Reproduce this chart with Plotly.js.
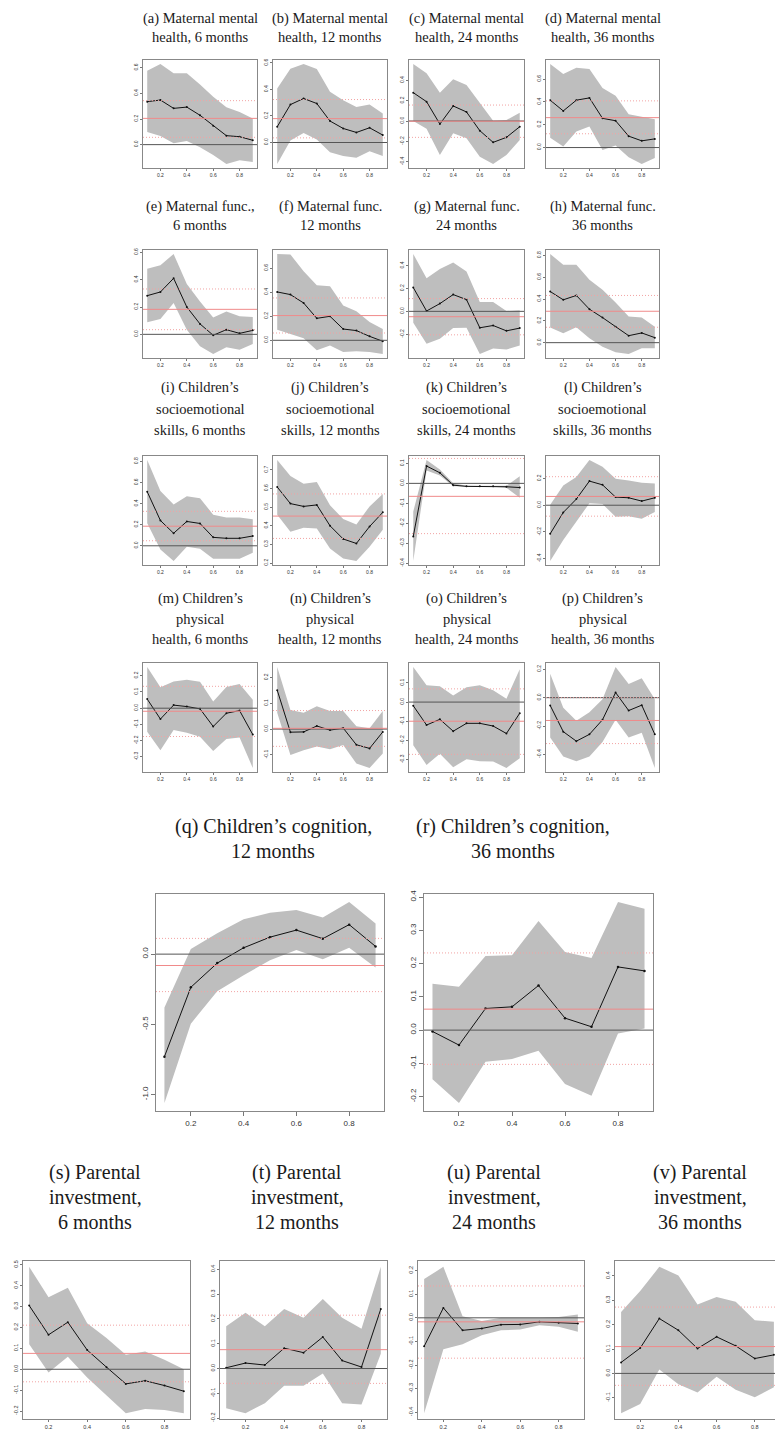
<!DOCTYPE html>
<html><head><meta charset="utf-8">
<script src="https://cdn.plot.ly/plotly-3.0.1.min.js"></script>
<style>html,body{margin:0;padding:0;background:#fff}#chart{width:775px;height:1432px}</style>
</head><body><div id="chart"></div>
<script>
const quantiles = [0.1,0.2,0.3,0.4,0.5,0.6,0.7,0.8,0.9];
const xTicks = [0.2,0.4,0.6,0.8];

// each panel: estimate, lower band, upper band, reference [mean, lower, upper]
const a_est=[0.335,0.348,0.283,0.293,0.229,0.148,0.070,0.062,0.034];
const a_lower=[0.099,0.068,0.010,0.029,-0.021,-0.081,-0.151,-0.122,-0.135];
const a_upper=[0.577,0.629,0.556,0.556,0.470,0.374,0.291,0.255,0.203];
const a_ref=[0.205,0.057,0.343];
const a_yticks=[0,0.2,0.4,0.6];

const b_est=[0.119,0.286,0.332,0.294,0.162,0.106,0.076,0.111,0.056];
const b_lower=[-0.162,0.015,0.071,0.023,-0.073,-0.101,-0.114,-0.066,-0.101];
const b_upper=[0.408,0.557,0.592,0.554,0.382,0.319,0.268,0.286,0.218];
const b_ref=[0.18,0.035,0.324];
const b_yticks=[0,0.2,0.4,0.6];

const c_est=[0.279,0.19,-0.03,0.148,0.089,-0.095,-0.21,-0.161,-0.056];
const c_lower=[0.0,-0.075,-0.334,-0.121,-0.17,-0.351,-0.423,-0.334,-0.187];
const c_upper=[0.561,0.469,0.279,0.41,0.354,0.174,0.003,0.01,0.082];
const c_ref=[-0.002,-0.161,0.157];
const c_yticks=[-0.4,-0.2,0,0.2,0.4];

const d_est=[0.415,0.321,0.415,0.435,0.256,0.235,0.1,0.059,0.076];
const d_lower=[0.085,0.009,0.141,0.185,-0.021,0.018,-0.085,-0.144,-0.091];
const d_upper=[0.732,0.644,0.7,0.688,0.521,0.453,0.291,0.268,0.247];
const d_ref=[0.262,0.121,0.409];
const d_yticks=[0,0.2,0.4,0.6];

const e_est=[0.283,0.31,0.41,0.2,0.076,-0.007,0.034,0.007,0.029];
const e_lower=[0.088,0.112,0.229,0.034,-0.088,-0.144,-0.095,-0.112,-0.071];
const e_upper=[0.48,0.505,0.588,0.368,0.241,0.124,0.168,0.132,0.127];
const e_ref=[0.183,0.034,0.332];
const e_yticks=[0,0.2,0.4,0.6];

const f_est=[0.403,0.381,0.311,0.183,0.2,0.094,0.081,0.033,-0.008];
const f_lower=[0.089,0.053,0.017,-0.083,-0.044,-0.097,-0.092,-0.097,-0.114];
const f_upper=[0.719,0.714,0.575,0.458,0.45,0.289,0.242,0.153,0.094];
const f_ref=[0.206,0.061,0.353];
const f_yticks=[0,0.2,0.4,0.6];

const g_est=[0.209,0.003,0.068,0.147,0.103,-0.144,-0.124,-0.171,-0.147];
const g_lower=[-0.1,-0.285,-0.241,-0.147,-0.144,-0.374,-0.326,-0.335,-0.3];
const g_upper=[0.503,0.291,0.371,0.429,0.35,0.082,0.082,0.003,0.009];
const g_ref=[-0.047,-0.206,0.112];
const g_yticks=[-0.2,0,0.2,0.4];

const h_est=[0.469,0.393,0.433,0.307,0.23,0.147,0.064,0.089,0.046];
const h_lower=[0.138,0.086,0.141,0.04,-0.037,-0.089,-0.104,-0.052,-0.052];
const h_upper=[0.813,0.715,0.715,0.577,0.485,0.368,0.239,0.23,0.147];
const h_ref=[0.288,0.141,0.433];
const h_yticks=[0,0.2,0.4,0.6,0.8];

const i_est=[0.513,0.24,0.119,0.231,0.212,0.08,0.071,0.071,0.093];
const i_lower=[0.215,-0.035,-0.144,-0.01,-0.029,-0.122,-0.122,-0.122,-0.067];
const i_upper=[0.814,0.519,0.391,0.471,0.452,0.295,0.269,0.269,0.253];
const i_ref=[0.186,0.048,0.327];
const i_yticks=[0,0.2,0.4,0.6,0.8];

const j_est=[0.608,0.519,0.504,0.512,0.4,0.329,0.305,0.396,0.472];
const j_lower=[0.459,0.368,0.39,0.385,0.278,0.224,0.211,0.287,0.378];
const j_upper=[0.753,0.667,0.626,0.635,0.51,0.436,0.407,0.504,0.571];
const j_ref=[0.452,0.332,0.571];
const j_yticks=[0.2,0.3,0.4,0.5,0.6,0.7];

const k_est=[-0.266,0.087,0.053,-0.009,-0.015,-0.015,-0.015,-0.017,-0.021];
const k_lower=[-0.389,0.065,0.039,-0.015,-0.017,-0.017,-0.017,-0.022,-0.072];
const k_upper=[-0.141,0.117,0.069,0.0,-0.012,-0.012,-0.012,-0.012,0.036];
const k_ref=[-0.065,-0.252,0.125];
const k_yticks=[-0.4,-0.3,-0.2,-0.1,0,0.1];

const l_est=[-0.214,-0.054,0.046,0.181,0.153,0.061,0.056,0.031,0.056];
const l_lower=[-0.418,-0.26,-0.125,0.015,0.01,-0.087,-0.082,-0.102,-0.051];
const l_upper=[0.003,0.148,0.212,0.339,0.288,0.199,0.186,0.168,0.163];
const l_ref=[0.066,-0.082,0.214];
const l_yticks=[-0.4,-0.2,0,0.2];

const m_est=[0.056,-0.067,0.019,0.01,-0.004,-0.113,-0.031,-0.015,-0.163];
const m_lower=[-0.146,-0.26,-0.135,-0.152,-0.177,-0.265,-0.19,-0.181,-0.369];
const m_upper=[0.254,0.129,0.165,0.175,0.163,0.042,0.131,0.15,0.052];
const m_ref=[-0.019,-0.175,0.135];
const m_yticks=[-0.3,-0.2,-0.1,0,0.1,0.2];

const n_est=[0.151,-0.012,-0.011,0.012,-0.004,0.004,-0.061,-0.075,-0.011];
const n_lower=[0.063,-0.101,-0.082,-0.068,-0.078,-0.062,-0.134,-0.151,-0.095];
const n_upper=[0.241,0.074,0.063,0.089,0.07,0.07,0.011,0.003,0.07];
const n_ref=[0.003,-0.067,0.072];
const n_yticks=[-0.1,0,0.1,0.2];

const o_est=[-0.019,-0.12,-0.09,-0.152,-0.111,-0.111,-0.125,-0.164,-0.058];
const o_lower=[-0.226,-0.328,-0.27,-0.34,-0.298,-0.309,-0.31,-0.344,-0.293];
const o_upper=[0.183,0.088,0.083,0.034,0.078,0.088,0.062,0.018,0.171];
const o_ref=[-0.1,-0.273,0.069];
const o_yticks=[-0.3,-0.2,-0.1,0,0.1];

const p_est=[-0.055,-0.24,-0.307,-0.259,-0.156,0.036,-0.091,-0.053,-0.259];
const p_lower=[-0.281,-0.415,-0.448,-0.415,-0.312,-0.156,-0.281,-0.247,-0.496];
const p_upper=[0.168,-0.072,-0.163,-0.103,-0.012,0.216,0.096,0.137,-0.012];
const p_ref=[-0.161,-0.324,0.0];
const p_yticks=[-0.4,-0.2,0,0.2];

const q_est=[-0.73,-0.236,-0.064,0.045,0.121,0.171,0.11,0.21,0.055];
const q_lower=[-1.06,-0.495,-0.264,-0.15,-0.043,0.029,-0.036,0.045,-0.095];
const q_upper=[-0.38,0.036,0.148,0.248,0.295,0.314,0.26,0.371,0.219];
const q_ref=[-0.081,-0.267,0.112];
const q_yticks=[-1,-0.5,0];

const r_est=[-0.004,-0.045,0.065,0.07,0.134,0.036,0.01,0.19,0.178];
const r_lower=[-0.148,-0.219,-0.095,-0.087,-0.062,-0.162,-0.197,-0.01,0.005];
const r_upper=[0.139,0.13,0.223,0.225,0.328,0.235,0.217,0.385,0.365];
const r_ref=[0.063,-0.103,0.232];
const r_yticks=[-0.2,-0.1,0,0.1,0.2,0.3,0.4];

const s_est=[0.305,0.165,0.225,0.092,0.01,-0.07,-0.055,-0.078,-0.105];
const s_lower=[0.12,-0.015,0.06,-0.04,-0.125,-0.21,-0.19,-0.195,-0.21];
const s_upper=[0.49,0.345,0.39,0.22,0.15,0.07,0.085,0.045,0.0];
const s_ref=[0.076,-0.06,0.211];
const s_yticks=[-0.2,-0.1,0,0.1,0.2,0.3,0.4,0.5];

const t_est=[0.003,0.022,0.014,0.082,0.064,0.127,0.032,0.006,0.24];
const t_lower=[-0.16,-0.18,-0.14,-0.07,-0.07,-0.02,-0.14,-0.145,0.06];
const t_upper=[0.17,0.225,0.17,0.24,0.205,0.28,0.205,0.16,0.41];
const t_ref=[0.076,-0.06,0.215];
const t_yticks=[-0.2,-0.1,0,0.1,0.2,0.3,0.4];

const u_est=[-0.121,0.042,-0.053,-0.045,-0.029,-0.028,-0.017,-0.021,-0.024];
const u_lower=[-0.404,-0.133,-0.112,-0.074,-0.053,-0.049,-0.032,-0.038,-0.059];
const u_upper=[0.164,0.216,0.007,-0.014,0.0,0.0,0.0,0.004,0.014];
const u_ref=[-0.017,-0.171,0.135];
const u_yticks=[-0.4,-0.3,-0.2,-0.1,0,0.1,0.2];

const v_est=[0.045,0.104,0.225,0.177,0.102,0.15,0.113,0.061,0.076];
const v_lower=[-0.163,-0.125,0.016,-0.044,-0.078,-0.014,-0.067,-0.098,-0.057];
const v_upper=[0.252,0.338,0.437,0.402,0.283,0.313,0.294,0.218,0.212];
const v_ref=[0.11,-0.049,0.272];
const v_yticks=[-0.1,0,0.1,0.2,0.3,0.4];

const titles = {
 a:["(a) Maternal mental","health, 6 months"],
 b:["(b) Maternal mental","health, 12 months"],
 c:["(c) Maternal mental","health, 24 months"],
 d:["(d) Maternal mental","health, 36 months"],
 e:["(e) Maternal func.,","6 months"],
 f:["(f) Maternal func.","12 months"],
 g:["(g) Maternal func.","24 months"],
 h:["(h) Maternal func.","36 months"],
 i:["(i) Children\u2019s","socioemotional","skills, 6 months"],
 j:["(j) Children\u2019s","socioemotional","skills, 12 months"],
 k:["(k) Children\u2019s","socioemotional","skills, 24 months"],
 l:["(l) Children\u2019s","socioemotional","skills, 36 months"],
 m:["(m) Children\u2019s","physical","health, 6 months"],
 n:["(n) Children\u2019s","physical","health, 12 months"],
 o:["(o) Children\u2019s","physical","health, 24 months"],
 p:["(p) Children\u2019s","physical","health, 36 months"],
 q:["(q) Children\u2019s cognition,","12 months"],
 r:["(r) Children\u2019s cognition,","36 months"],
 s:["(s) Parental","investment,","6 months"],
 t:["(t) Parental","investment,","12 months"],
 u:["(u) Parental","investment,","24 months"],
 v:["(v) Parental","investment,","36 months"]
};

const DATA = {
 a:[a_est,a_lower,a_upper,a_ref,a_yticks], b:[b_est,b_lower,b_upper,b_ref,b_yticks],
 c:[c_est,c_lower,c_upper,c_ref,c_yticks], d:[d_est,d_lower,d_upper,d_ref,d_yticks],
 e:[e_est,e_lower,e_upper,e_ref,e_yticks], f:[f_est,f_lower,f_upper,f_ref,f_yticks],
 g:[g_est,g_lower,g_upper,g_ref,g_yticks], h:[h_est,h_lower,h_upper,h_ref,h_yticks],
 i:[i_est,i_lower,i_upper,i_ref,i_yticks], j:[j_est,j_lower,j_upper,j_ref,j_yticks],
 k:[k_est,k_lower,k_upper,k_ref,k_yticks], l:[l_est,l_lower,l_upper,l_ref,l_yticks],
 m:[m_est,m_lower,m_upper,m_ref,m_yticks], n:[n_est,n_lower,n_upper,n_ref,n_yticks],
 o:[o_est,o_lower,o_upper,o_ref,o_yticks], p:[p_est,p_lower,p_upper,p_ref,p_yticks],
 q:[q_est,q_lower,q_upper,q_ref,q_yticks], r:[r_est,r_lower,r_upper,r_ref,r_yticks],
 s:[s_est,s_lower,s_upper,s_ref,s_yticks], t:[t_est,t_lower,t_upper,t_ref,t_yticks],
 u:[u_est,u_lower,u_upper,u_ref,u_yticks], v:[v_est,v_lower,v_upper,v_ref,v_yticks]
};

// layout geometry (pixels): [left, top, right, bottom]
const W=775, H=1432;
const rowsSmall = [
 {keys:['a','b','c','d'], top:60, bottom:168, tY:[18,37]},
 {keys:['e','f','g','h'], top:250, bottom:358, tY:[207,225]},
 {keys:['i','j','k','l'], top:456, bottom:565, tY:[388,409,430]},
 {keys:['m','n','o','p'], top:663, bottom:772, tY:[599,619,639]}
];
const colsSmall = [[143,257],[273,387],[409,524],[546,659]];
const geo = {};
rowsSmall.forEach(r=>r.keys.forEach((k,ci)=>{
  geo[k]={box:[colsSmall[ci][0],r.top,colsSmall[ci][1],r.bottom],tY:r.tY,tx:(colsSmall[ci][0]+colsSmall[ci][1])/2,tf:14.5,kf:5,big:false};
}));
geo.q={box:[156,894,384,1111],tY:[826,851],tx:273,tf:20,kf:8,big:true};
geo.r={box:[424,894,653,1111],tY:[826,851],tx:513,tf:20,kf:8,big:true};
const bot=[[23,190],[220,387],[418,584],[615,780]];
['s','t','u','v'].forEach((k,ci)=>{
  geo[k]={box:[bot[ci][0],1261,bot[ci][1],1419],tY:[1172,1197,1222],tx:[95,297,494,700][ci],tf:20,kf:5.5,big:false};
});

const traces=[], shapes=[], annotations=[];
const layout={width:W,height:H,margin:{l:0,r:0,t:0,b:0},paper_bgcolor:'#fff',plot_bgcolor:'#fff',showlegend:false,shapes,annotations};
const fmt=v=>v.toFixed(1);
const keys=Object.keys(DATA);
keys.forEach((k,idx)=>{
  const [est,lo,hi,ref,yt]=DATA[k];
  const g=geo[k];
  const n=idx+1, xa='x'+(n===1?'':n), ya='y'+(n===1?'':n);
  const xaName='xaxis'+(n===1?'':n), yaName='yaxis'+(n===1?'':n);
  const all=lo.concat(hi).concat(est);
  let mn=Math.min(...all), mx=Math.max(...all);
  const pad=(mx-mn)*0.04;
  let x0=g.box[0], x1=g.box[2];
  let xr=[0.068,0.932];
  let clip=false;
  if(x1>W){ xr=[0.068, 0.068+0.864*(W-x0)/(x1-x0)]; x1=W; clip=true; }
  layout[xaName]={domain:[x0/W,x1/W],range:xr,anchor:ya,tickvals:xTicks,ticktext:xTicks.map(fmt),
    tickfont:{family:'Liberation Sans, Arial',size:g.kf,color:'#333'},ticks:'outside',ticklen:g.big?4:2,tickcolor:'#777',
    showline:true,mirror:true,linecolor:'#888',linewidth:1,showgrid:false,zeroline:false,fixedrange:true};
  layout[yaName]={domain:[1-g.box[3]/H,1-g.box[1]/H],range:[mn-pad,mx+pad],anchor:xa,tickvals:yt,ticktext:yt.map(fmt),tickangle:-90,
    tickfont:{family:'Liberation Sans, Arial',size:g.kf,color:'#333'},ticks:'outside',ticklen:g.big?4:2,tickcolor:'#777',
    showline:true,mirror:!clip,linecolor:'#888',linewidth:1,showgrid:false,zeroline:false,fixedrange:true};
  traces.push({x:quantiles.concat(quantiles.slice().reverse()),y:hi.concat(lo.slice().reverse()),
    xaxis:xa,yaxis:ya,type:'scatter',mode:'lines',fill:'toself',fillcolor:'#bebebe',line:{width:0,color:'#bebebe'},hoverinfo:'skip'});
  const xd = xa+' domain';
  shapes.push({type:'line',xref:xd,yref:ya,x0:0,x1:1,y0:0,y1:0,line:{color:'#555',width:1},layer:'above'});
  shapes.push({type:'line',xref:xd,yref:ya,x0:0,x1:1,y0:ref[0],y1:ref[0],line:{color:'#f08a8a',width:1},layer:'above'});
  shapes.push({type:'line',xref:xd,yref:ya,x0:0,x1:1,y0:ref[1],y1:ref[1],line:{color:'#f2a3a3',width:1,dash:'1px,2px'},layer:'above'});
  shapes.push({type:'line',xref:xd,yref:ya,x0:0,x1:1,y0:ref[2],y1:ref[2],line:{color:'#f2a3a3',width:1,dash:'1px,2px'},layer:'above'});
  traces.push({x:quantiles,y:est,xaxis:xa,yaxis:ya,type:'scatter',mode:'lines+markers',
    line:{color:'#111',width:1},marker:{color:'#111',size:g.big?2.5:2},hoverinfo:'skip'});
  titles[k].forEach((t,li)=>{
    annotations.push({xref:'paper',yref:'paper',x:g.tx/W,y:1-g.tY[li]/H,text:t,showarrow:false,xanchor:'center',yanchor:'middle',
      font:{family:'Liberation Serif, Times New Roman, serif',size:g.tf,color:'#1a1a1a'}});
  });
});
Plotly.newPlot('chart',traces,layout,{staticPlot:true,displayModeBar:false});
</script></body></html>
